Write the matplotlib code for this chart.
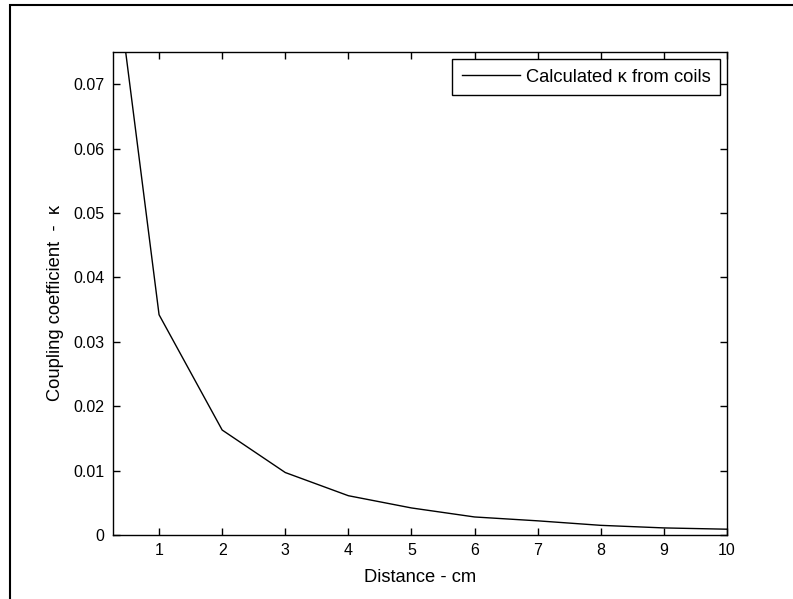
import matplotlib
matplotlib.use('Agg')
import matplotlib.pyplot as plt
from matplotlib.patches import Rectangle

distance = [0.27, 1, 2, 3, 4, 5, 6, 7, 8, 9, 10]
kappa = [0.0905, 0.0342, 0.0163, 0.0097, 0.0061, 0.0042, 0.0028, 0.0022, 0.0015, 0.0011, 0.0009]

x_ticks = [1, 2, 3, 4, 5, 6, 7, 8, 9, 10]
y_ticks = [0, 0.01, 0.02, 0.03, 0.04, 0.05, 0.06, 0.07]
y_tick_labels = ['0', '0.01', '0.02', '0.03', '0.04', '0.05', '0.06', '0.07']

TICK_SIZE = 11.5
LABEL_SIZE = 13.2
plt.rcParams['font.family'] = ['Liberation Sans', 'DejaVu Sans']

W, H = 793, 599
fig = plt.figure(figsize=(W / 100, H / 100), dpi=100)
ax = fig.add_axes([113 / W, 1 - 535 / H, (727 - 113) / W, (535 - 52) / H])

ax.plot(distance, kappa, color='black', linewidth=1.0, label='Calculated \u03ba from coils')

ax.set_xlim(0.27, 10)
ax.set_ylim(0, 0.075)
ax.set_xticks(x_ticks)
ax.set_yticks(y_ticks)
ax.set_yticklabels(y_tick_labels)
ax.tick_params(direction='in', length=5, width=1, top=True, right=True,
               labelsize=TICK_SIZE, pad=6, color='black')
for s in ax.spines.values():
    s.set_linewidth(1.0)

ax.set_xlabel('Distance - cm', fontsize=LABEL_SIZE, labelpad=8)
ax.set_ylabel('Coupling coefficient  -  \u03ba', fontsize=LABEL_SIZE, labelpad=7)
ax.yaxis.label.set_y(0.48)

leg = ax.legend(loc='upper right', fontsize=LABEL_SIZE, fancybox=False,
                framealpha=1, edgecolor='black', handlelength=3.2,
                borderaxespad=0.4, borderpad=0.5, handletextpad=0.3)
leg.get_frame().set_linewidth(1.0)

# outer frame of the figure window
fig.patches.append(Rectangle((10 / W, -0.1), 1.2, 1 - 5 / H + 0.1,
                             transform=fig.transFigure, fill=False,
                             edgecolor='black', linewidth=1.5))

fig.savefig('out.png', dpi=100)
